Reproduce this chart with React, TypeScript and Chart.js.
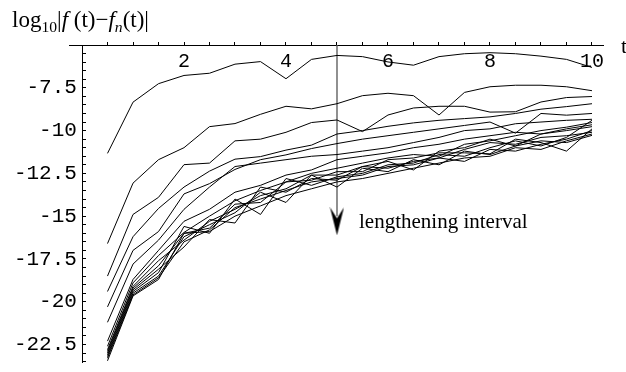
import React, { useEffect, useRef } from 'react';
import { Chart, registerables } from 'chart.js';

Chart.register(...registerables);

const tValues = [0.5, 1, 1.5, 2, 2.5, 3, 3.5, 4, 4.5, 5, 5.5, 6, 6.5, 7, 7.5, 8, 8.5, 9, 9.5, 10];

const series1 = [-11.33, -8.34, -7.26, -6.78, -6.65, -6.12, -5.97, -6.97, -5.84, -5.61, -5.68, -5.99, -6.18, -5.68, -5.51, -5.45, -5.51, -5.65, -5.84, -6.31];
const series2 = [-16.6, -13.07, -11.7, -11.0, -9.77, -9.59, -9.05, -8.58, -8.73, -8.43, -7.96, -7.82, -7.96, -9.09, -7.77, -7.44, -7.35, -7.35, -7.44, -7.67];
const series3 = [-18.5, -14.9, -13.9, -11.99, -11.9, -10.6, -10.5, -10.1, -9.53, -9.38, -10.06, -9.09, -8.68, -8.58, -8.58, -8.92, -8.9, -8.33, -8.07, -8.01];
const series4 = [-19.4, -16.2, -14.55, -13.3, -12.37, -11.67, -11.52, -11.14, -10.85, -10.2, -10.0, -9.75, -9.55, -9.4, -9.3, -9.2, -9.0, -8.75, -8.6, -8.43];
const series5 = [-20.3, -17.0, -15.9, -13.7, -13.1, -12.27, -11.7, -11.42, -11.05, -10.76, -10.5, -10.3, -10.1, -9.9, -9.7, -9.5, -10.15, -9.0, -9.1, -9.0];
const series6 = [-21.2, -17.8, -16.4, -14.6, -13.3, -12.1, -11.9, -11.7, -11.5, -11.4, -11.2, -11.0, -10.7, -10.4, -10.0, -9.9, -9.6, -9.5, -9.4, -9.34];
const series7 = [-22.3, -18.7, -17.0, -15.3, -14.6, -13.6, -13.2, -12.6, -12.3, -11.7, -11.5, -11.3, -11.0, -10.8, -10.5, -10.3, -10.1, -10.2, -9.9, -9.66];
const series8 = [-22.6, -18.9, -17.3, -15.95, -15.0, -14.1, -13.5, -13.0, -12.5, -12.2, -11.9, -11.6, -11.4, -11.5, -10.8, -10.6, -10.3, -10.0, -9.8, -9.53];
const series9 = [-22.8, -19.1, -17.6, -16.4, -15.3, -14.6, -13.8, -13.4, -12.6, -12.6, -12.1, -11.8, -12.3, -11.2, -11.0, -10.5, -10.9, -10.2, -10.0, -9.77];
const series10 = [-22.9, -19.2, -17.9, -16.0, -15.7, -14.3, -14.2, -13.0, -12.9, -12.4, -12.4, -11.7, -11.6, -11.3, -11.3, -11.36, -10.5, -10.7, -11.2, -9.9];
const series11 = [-23.0, -19.3, -18.1, -16.8, -15.2, -15.4, -13.3, -13.6, -12.8, -12.9, -12.1, -12.2, -11.8, -11.6, -11.1, -10.7, -10.8, -10.4, -10.3, -10.1];
const series12 = [-23.1, -19.4, -18.3, -15.6, -16.0, -14.0, -14.9, -12.8, -13.2, -12.7, -12.5, -12.0, -11.9, -11.4, -11.5, -11.0, -10.6, -10.9, -10.4, -9.4];
const series13 = [-23.2, -19.5, -18.5, -16.2, -15.5, -14.8, -13.6, -14.2, -12.6, -13.3, -12.2, -12.4, -11.7, -12.0, -11.2, -11.4, -10.9, -10.6, -10.7, -10.28];
const series14 = [-23.3, -19.6, -18.6, -16.5, -15.8, -14.5, -14.0, -13.5, -13.0, -12.8, -12.6, -12.1, -12.0, -11.6, -11.8, -11.1, -11.2, -10.8, -10.5, -10.0];
const series15 = [-23.45, -19.66, -18.7, -16.0, -15.9, -15.0, -14.4, -13.8, -13.4, -13.0, -12.8, -12.5, -12.2, -11.9, -11.6, -11.5, -11.0, -11.1, -10.6, -10.2];

const allSeries = [series1, series2, series3, series4, series5, series6, series7, series8, series9, series10, series11, series12, series13, series14, series15];

const xTickValues = [0.5, 1, 1.5, 2, 2.5, 3, 3.5, 4, 4.5, 5, 5.5, 6, 6.5, 7, 7.5, 8, 8.5, 9, 9.5, 10];
const xTickLabelValues = [2, 4, 6, 8, 10];
const xTickLabels = ['2', '4', '6', '8', '10'];

const yTickValues = [-23.5, -23, -22.5, -22, -21.5, -21, -20.5, -20, -19.5, -19, -18.5, -18, -17.5, -17, -16.5, -16, -15.5, -15, -14.5, -14, -13.5, -13, -12.5, -12, -11.5, -11, -10.5, -10, -9.5, -9, -8.5, -8, -7.5, -7, -6.5, -6, -5.5];
const yTickLabelValues = [-22.5, -20, -17.5, -15, -12.5, -10, -7.5];
const yTickLabels = ['-22.5', '-20', '-17.5', '-15', '-12.5', '-10', '-7.5'];

const arrowX = [5, 5];
const arrowY = [-5, -15.0];
const arrowHeadX = [5];
const arrowHeadY = [-15.3];

function makeArrowHead(): HTMLCanvasElement {
  const c = document.createElement('canvas');
  c.width = 15;
  c.height = 28;
  const g = c.getContext('2d')!;
  g.fillStyle = '#000';
  g.beginPath();
  g.moveTo(7.5, 28);
  g.lineTo(0.5, 0);
  g.lineTo(7.5, 11);
  g.lineTo(14.5, 0);
  g.closePath();
  g.fill();
  return c;
}

export default function App() {
  const ref = useRef<HTMLCanvasElement | null>(null);

  useEffect(() => {
    if (!ref.current) return;
    const lineSets = allSeries.map((s) => ({
      data: s.map((v, i) => ({ x: tValues[i], y: v })),
      borderColor: '#000',
      borderWidth: 1,
      pointRadius: 0,
      tension: 0,
      fill: false,
      yAxisID: 'y',
      xAxisID: 'x',
    }));
    const arrowShaft = {
      data: arrowX.map((v, i) => ({ x: v, y: arrowY[i] })),
      borderColor: '#555',
      borderWidth: 1.3,
      pointRadius: 0,
      tension: 0,
      fill: false,
      yAxisID: 'y',
      xAxisID: 'x',
    };
    const arrowHead = {
      data: arrowHeadX.map((v, i) => ({ x: v, y: arrowHeadY[i] })),
      showLine: false,
      pointStyle: makeArrowHead(),
      pointRadius: 10,
      borderWidth: 0,
      yAxisID: 'y',
      xAxisID: 'x',
    };
    const mono = '"Liberation Mono", "Courier New", monospace';
    const chart = new Chart(ref.current, {
      type: 'line',
      data: { datasets: [...lineSets, arrowShaft, arrowHead] as any },
      options: {
        responsive: false,
        animation: false,
        events: [],
        layout: { padding: { left: 69, top: 45, right: 23, bottom: 1 } },
        plugins: { legend: { display: false }, tooltip: { enabled: false }, title: { display: false } },
        scales: {
          x: {
            type: 'linear',
            min: -0.255,
            max: 10.216,
            position: { y: -5 } as any,
            grid: { display: true, drawOnChartArea: false, drawTicks: true, tickLength: -4, color: '#000', lineWidth: 1 },
            border: { display: true, color: '#000', width: 1 },
            ticks: {
              padding: 9,
              font: { family: mono, size: 20 },
              color: '#000',
              autoSkip: false,
              maxRotation: 0,
              callback: (v: any) => {
                const idx = xTickLabelValues.indexOf(Number(v));
                return idx >= 0 ? xTickLabels[idx] : '';
              },
            },
            afterBuildTicks: (s: any) => {
              s.ticks = xTickValues.map((v) => ({ value: v }));
            },
          },
          y: {
            type: 'linear',
            axis: 'y',
            min: -23.52,
            max: -5,
            position: { x: 0 } as any,
            grid: { display: true, drawOnChartArea: false, drawTicks: true, tickLength: -4, color: '#000', lineWidth: 1 },
            border: { display: true, color: '#000', width: 1 },
            ticks: { display: false },
            afterBuildTicks: (s: any) => {
              s.ticks = yTickValues.map((v) => ({ value: v }));
            },
          },
          yLabels: {
            type: 'linear',
            axis: 'y',
            min: -23.52,
            max: -5,
            position: { x: -0.1 } as any,
            grid: { display: false },
            border: { display: false },
            ticks: {
              padding: 0,
              font: { family: mono, size: 21, lineHeight: 0.2 },
              color: '#000',
              autoSkip: false,
              callback: (v: any) => {
                const idx = yTickLabelValues.indexOf(Number(v));
                return idx >= 0 ? yTickLabels[idx] : '';
              },
            },
            afterBuildTicks: (s: any) => {
              s.ticks = yTickLabelValues.map((v) => ({ value: v }));
            },
          },
        } as any,
      },
    });
    return () => chart.destroy();
  }, []);

  const serif = '"Liberation Serif", "Times New Roman", serif';
  return (
    <div style={{ position: 'fixed', left: 0, top: 0, width: 626, height: 372, background: '#fff', overflow: 'hidden' }}>
      <canvas ref={ref} width={626} height={372} style={{ position: 'absolute', left: 0, top: 0, width: 626, height: 372 }} />
      <div style={{ position: 'absolute', left: 12, top: 8, font: `23px ${serif}`, lineHeight: 1, whiteSpace: 'nowrap', color: '#000' }}>
        log<span style={{ fontSize: '0.68em', position: 'relative', top: '0.3em' }}>10</span>|<i>f</i> (t)−<i>f</i>
        <span style={{ fontSize: '0.68em', position: 'relative', top: '0.3em' }}><i>n</i></span>(t)|
      </div>
      <div style={{ position: 'absolute', left: 621, top: 35, font: `22px ${serif}`, lineHeight: 1, color: '#000' }}>t</div>
      <div style={{ position: 'absolute', left: 359, top: 211, font: `21px ${serif}`, lineHeight: 1, whiteSpace: 'nowrap', color: '#000' }}>
        lengthening interval
      </div>
    </div>
  );
}
